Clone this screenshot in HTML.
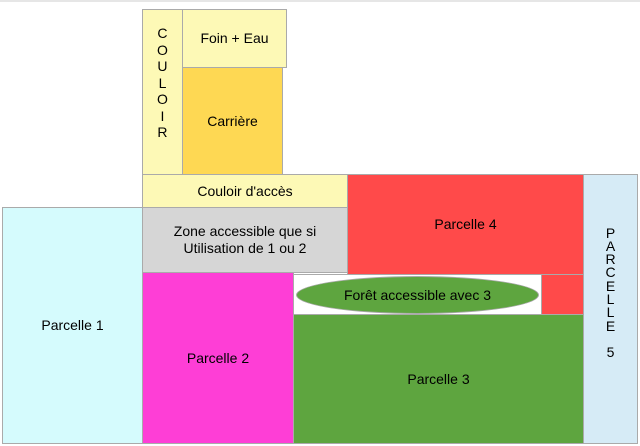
<!DOCTYPE html>
<html><head><style>
body{margin:0;width:640px;height:446px;background:#fff;position:relative;overflow:hidden;font-family:"Liberation Sans",sans-serif;font-size:14px;color:#000}
.b{position:absolute;box-sizing:border-box;border:1px solid #aaa;display:flex;align-items:center;justify-content:center;text-align:center;line-height:17px}
</style></head><body>
<div style="position:absolute;left:0;top:0;width:640px;height:2px;background:#e6e6e6"></div>
<div class="b" style="left:142px;top:9px;width:41px;height:166px;background:#fdf9b6;line-height:16.5px;padding-bottom:18px">C<br>O<br>U<br>L<br>O<br>I<br>R</div>
<div class="b" style="left:182px;top:9px;width:105px;height:59px;background:#fdf9b6">Foin + Eau</div>
<div class="b" style="left:182px;top:67px;width:101px;height:108px;background:#fed853">Carrière</div>
<div class="b" style="left:142px;top:174px;width:206px;height:34px;background:#fdf9b6">Couloir d'accès</div>
<div class="b" style="left:347px;top:174px;width:237px;height:101px;background:#ff4a4a">Parcelle 4</div>
<div class="b" style="left:541px;top:274px;width:43px;height:41px;background:#ff4a4a"></div>
<div class="b" style="left:142px;top:207px;width:206px;height:66px;background:#d6d6d6">Zone accessible que si<br>Utilisation de 1 ou 2</div>
<div class="b" style="left:2px;top:207px;width:141px;height:237px;background:#d5fbfd">Parcelle 1</div>
<div class="b" style="left:142px;top:272px;width:152px;height:172px;background:#fe3ed6">Parcelle 2</div>
<div class="b" style="left:293px;top:274px;width:249px;height:41px;background:#fff"></div>
<div class="b" style="left:296px;top:276px;width:243px;height:38px;border-radius:50%;background:#5ea53f">Forêt accessible avec 3</div>
<div class="b" style="left:293px;top:314px;width:291px;height:130px;background:#5ea53f">Parcelle 3</div>
<div class="b" style="left:583px;top:174px;width:55px;height:270px;background:#d6ebf6;line-height:13.3px;padding-bottom:32px">P<br>A<br>R<br>C<br>E<br>L<br>L<br>E<br><br>5</div>
</body></html>
